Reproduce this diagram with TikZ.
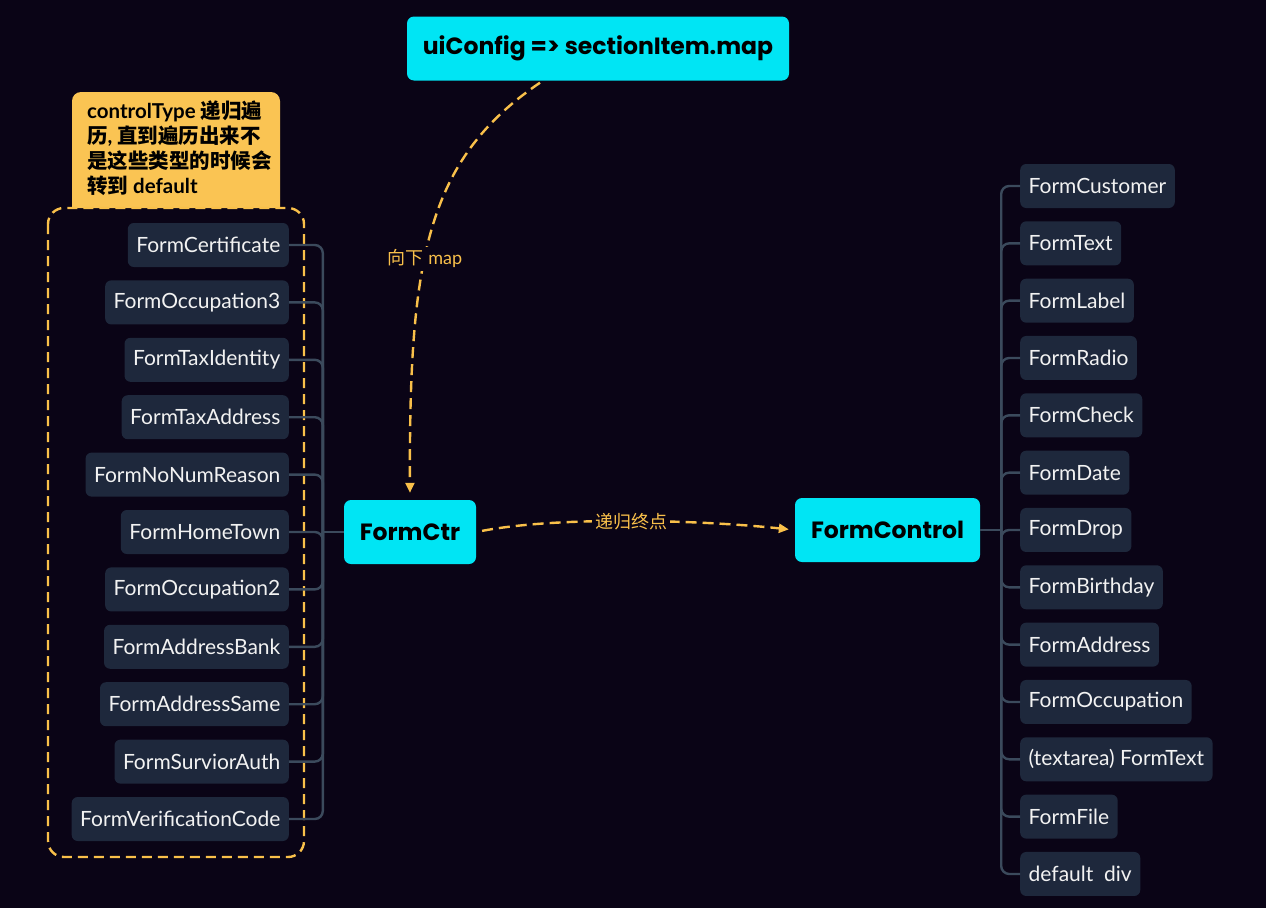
\documentclass[tikz,border=0pt]{standalone}
\usepackage{fontspec}
\setmainfont{Lato}
\newfontfamily\cjk{Noto Sans CJK SC}
\newfontfamily\boxfont{Poppins}
\usetikzlibrary{arrows.meta,positioning}
\definecolor{bgdark}{HTML}{0A0416}
\definecolor{cyanbox}{HTML}{00E5F4}
\definecolor{leafbox}{HTML}{1E283C}
\definecolor{branchline}{HTML}{3B4A5C}
\definecolor{flowyellow}{HTML}{F9C04A}
\definecolor{notefill}{HTML}{FAC453}
\definecolor{leaftext}{HTML}{F2F2F2}
\begin{document}
\begin{tikzpicture}[x=1pt,y=-1pt,
  mainbox/.style={fill=cyanbox, rounded corners=7pt, inner sep=0pt,
    minimum height=64pt, font=\boxfont\fontsize{23.5}{28}\selectfont\bfseries, text=black},
  leaf/.style={fill=leafbox, rounded corners=6pt, inner xsep=8.5pt,
    minimum height=44pt, font=\fontsize{21}{25}\selectfont, text=leaftext},
  branch/.style={draw=branchline, line width=2.4pt, rounded corners=8pt},
  flow/.style={draw=flowyellow, line width=2.4pt, dash pattern=on 11pt off 6pt,
    -{Triangle[length=10pt,width=9pt]}},
  flowlabel/.style={fill=bgdark, text=flowyellow, inner sep=3pt,
    font=\fontsize{18}{21}\selectfont}]
\useasboundingbox (0,0) rectangle (1266,908);
\fill[bgdark] (0,0) rectangle (1266,908);

% callout and dashed group
\fill[notefill, rounded corners=9pt] (72,208) -- (72,92) -- (280,92) -- (280,208);
\node[anchor=north west, align=left, text=black, inner sep=0pt,
  font=\fontsize{20.5}{25}\selectfont\bfseries] (note) at (87,101)
  {controlType {\cjk 递归遍}\\{\cjk 历}, {\cjk 直到遍历出来不}\\{\cjk 是这些类型的时候会}\\{\cjk 转到} default};
\draw[flowyellow, line width=2.4pt, dash pattern=on 10pt off 6pt, rounded corners=16pt]
  (48,208) rectangle (304,857);

% main boxes
\node[mainbox, minimum width=382pt] (cfg) at (598,48.5) {uiConfig => sectionItem.map};
\node[mainbox, minimum width=132pt] (ctr) at (410,532) {FormCtr};
\node[mainbox, minimum width=185pt] (fc) at (887.5,530) {FormControl};
\coordinate (lj) at ([xshift=-21pt]ctr.west);
\coordinate (rj) at ([xshift=21pt]fc.east);

% left leaves
\foreach \name [count=\i] in {FormCertificate,FormOccupation3,FormTaxIdentity,
  FormTaxAddress,FormNoNumReason,FormHomeTown,FormOccupation2,FormAddressBank,
  FormAddressSame,FormSurviorAuth,FormVerificationCode}
  \node[leaf, anchor=east] (l\i) at (289,{245+57.4*(\i-1)}) {\name};
\foreach \i in {1,...,11}
  \draw[branch] (l\i.east) -| (lj);
\draw[branch] (lj) -- (ctr.west);

% right leaves
\foreach \name [count=\i] in {FormCustomer,FormText,FormLabel,FormRadio,FormCheck,
  FormDate,FormDrop,FormBirthday,FormAddress,FormOccupation,{(textarea) FormText},
  FormFile,{default\ \ div}}
  \node[leaf, anchor=west] (r\i) at (1020,{186+57.33*(\i-1)}) {\name};
\foreach \i in {1,...,13}
  \draw[branch] (r\i.west) -| (rj);
\draw[branch] (fc.east) -- (rj);

% flows
\draw[flow, shorten >=7pt] ([xshift=-58pt,yshift=-2pt]cfg.south)
  .. controls (426,160) and (409,260) .. (ctr.north)
  node[flowlabel, pos=0.57] {{\cjk 向下} map};
\draw[flow, shorten <=6pt, shorten >=6pt] (ctr.east)
  .. controls (560,516) and (700,520) .. (fc.west)
  node[flowlabel, pos=0.5] {\cjk 递归终点};
\end{tikzpicture}
\end{document}
